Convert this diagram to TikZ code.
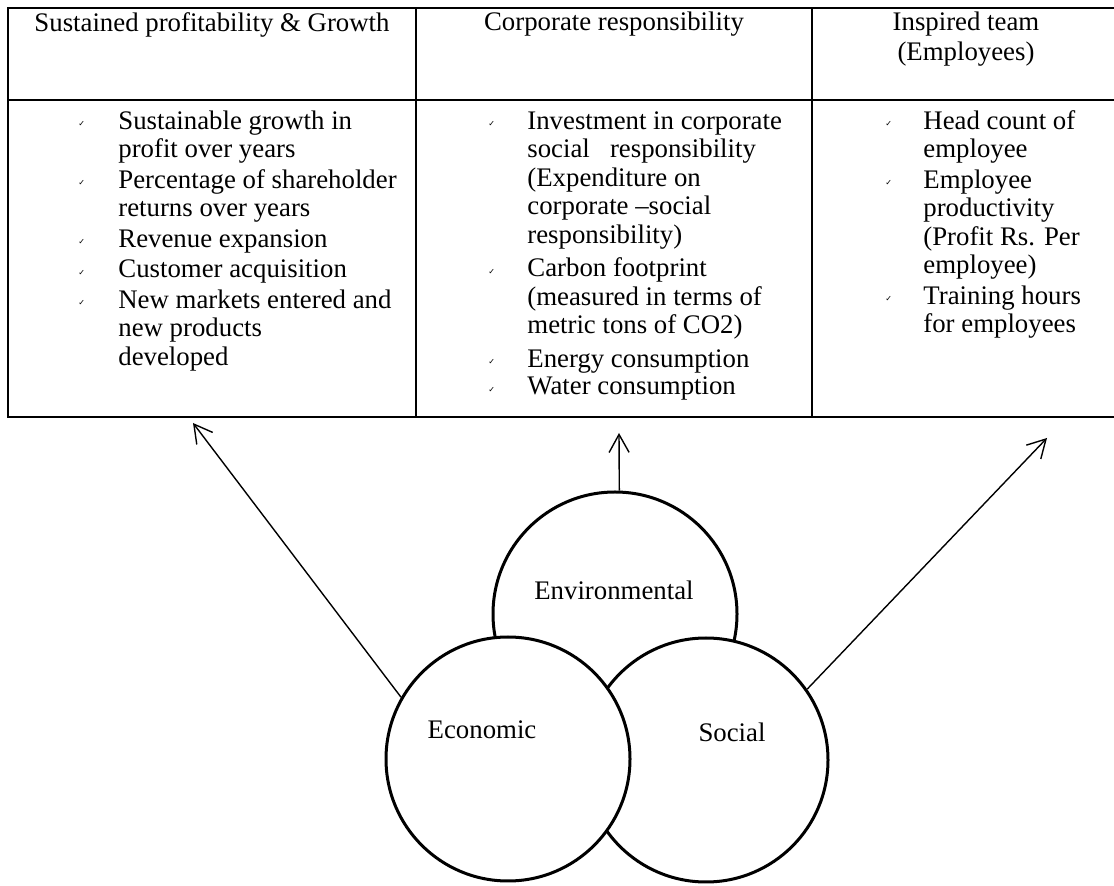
\documentclass[tikz,border=0pt]{standalone}
\usepackage{fontspec}
\setmainfont{Liberation Serif}
\newfontfamily\symfont{DejaVu Sans}
\usetikzlibrary{arrows.meta}

\newcommand{\tick}{\raisebox{1.2pt}{\symfont\fontsize{4}{4}\selectfont ✓}}

\begin{document}
\begin{tikzpicture}[x=0.5pt, y=-0.5pt, font=\fontsize{13.4}{15}\selectfont,
    pillar/.style={circle, draw, line width=1.5pt, fill=white, minimum size=122pt, inner sep=0pt},
    cell/.style={anchor=north west, inner sep=0pt, font=\fontsize{13.4}{14.25}\selectfont},
    head/.style={anchor=north, align=center, inner sep=0pt},
    link/.style={-{Straight Barb[length=9pt, width=10pt]}, line width=0.7pt}]
    \useasboundingbox (0,0) rectangle (1114,886);

    % table frame
    \draw[line width=1pt] (1114,8) -- (8,8) -- (8,417) -- (1114,417);
    \draw[line width=1pt] (8,100) -- (1114,100);
    \draw[line width=1pt] (416,8) -- (416,417);
    \draw[line width=1pt] (812,8) -- (812,417);

    % column heads
    \node[head] (hEco) at (212,12) {Sustained profitability \& Growth};
    \node[head] (hEnv) at (614,12) {Corporate responsibility};
    \node[head] (hSoc) at (966,12) {Inspired team\\(Employees)};

    % column bodies
    \node[cell] (bEco) at (78,109) {\begin{tabular}{@{}p{20pt}@{}l@{}}
        \tick & Sustainable growth in\\
              & profit over years\\[1pt]
        \tick & Percentage of shareholder\\
              & returns over years\\[1pt]
        \tick & Revenue expansion\\[1pt]
        \tick & Customer acquisition\\[1pt]
        \tick & New markets entered and\\
              & new products\\
              & developed
    \end{tabular}};
    \node[cell] (bEnv) at (488,109) {\begin{tabular}{@{}p{19.5pt}@{}l@{}}
        \tick & Investment in corporate\\
              & social\ \ \ responsibility\\
              & (Expenditure on\\
              & corporate –social\\
              & responsibility)\\[2.5pt]
        \tick & Carbon footprint\\
              & (measured in terms of\\
              & metric tons of CO2)\\[2.5pt]
        \tick & Energy consumption\\[-0.5pt]
        \tick & Water consumption
    \end{tabular}};
    \node[cell] (bSoc) at (885,109) {\begin{tabular}{@{}p{19pt}@{}l@{}}
        \tick & Head count of\\
              & employee\\[1pt]
        \tick & Employee\\
              & productivity\\
              & (Profit Rs. Per\\
              & employee)\\[1pt]
        \tick & Training hours\\
              & for employees
    \end{tabular}};

    % three pillars
    \node[pillar] (env) at (615,614) {};
    \node[pillar] (soc) at (706,760) {};
    \node[pillar] (eco) at (508,759) {};
    \node (envText) at (614,590) {Environmental};
    \node (ecoText) at (482,730) {Economic};
    \node (socText) at (732,732) {Social};

    % arrows up to the table
    \coordinate (tipL) at (193,423);
    \coordinate (tipM) at (619,433);
    \coordinate (tipR) at (1047,438);
    \draw[link] (eco.150) -- (tipL);
    \draw[link] (env.88) -- (tipM);
    \draw[link] (soc.35) -- (tipR);
\end{tikzpicture}
\end{document}
